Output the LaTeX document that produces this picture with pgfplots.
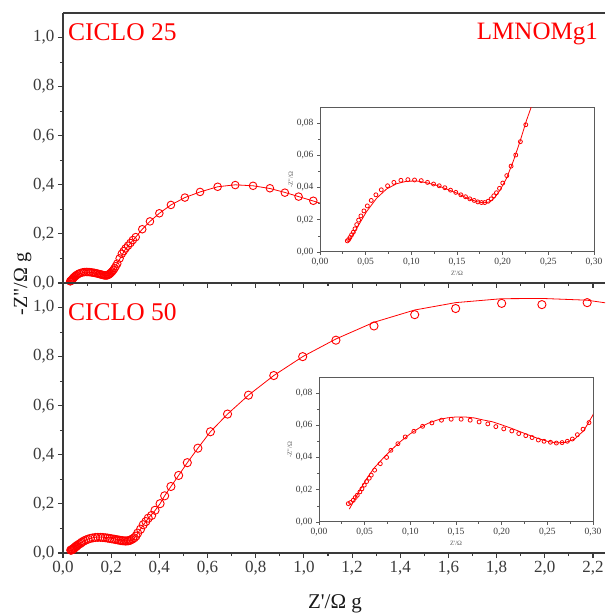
\documentclass[border=0pt]{standalone}
\usepackage{pgfplots}
\pgfplotsset{compat=1.18}
\usepackage{pgfplotstable}
\usepackage{fontspec}
\setmainfont{Liberation Serif}[Ligatures=TeXOff]
\definecolor{axgray}{HTML}{3A3A3A}
\definecolor{insgray}{HTML}{5A5A5A}
\definecolor{myred}{HTML}{FF0000}

\pgfplotstableread{
x y
0.0299 0.0069
0.0313 0.0077
0.0328 0.0090
0.0346 0.0107
0.0365 0.0123
0.0383 0.0144
0.0402 0.0170
0.0423 0.0198
0.0448 0.0224
0.0481 0.0255
0.0518 0.0286
0.0561 0.0320
0.0612 0.0355
0.0671 0.0386
0.0740 0.0411
0.0809 0.0432
0.0886 0.0445
0.0962 0.0449
0.1035 0.0447
0.1108 0.0443
0.1177 0.0432
0.1243 0.0422
0.1305 0.0411
0.1367 0.0399
0.1429 0.0384
0.1487 0.0370
0.1542 0.0355
0.1593 0.0343
0.1640 0.0330
0.1688 0.0320
0.1728 0.0311
0.1768 0.0307
0.1804 0.0307
0.1841 0.0315
0.1874 0.0330
0.1903 0.0349
0.1932 0.0368
0.1965 0.0395
0.2001 0.0428
0.2045 0.0474
0.2092 0.0533
0.2143 0.0602
0.2194 0.0685
0.2253 0.0790
0.235 0.100
0.244 0.119
0.252 0.130
0.260 0.141
0.270 0.152
0.280 0.163
0.290 0.175
0.302 0.187
0.329 0.219
0.361 0.251
0.400 0.284
0.448 0.318
0.506 0.348
0.569 0.371
0.642 0.392
0.715 0.399
0.789 0.396
0.859 0.386
0.921 0.368
0.978 0.352
1.039 0.335
}\datA

\pgfplotstableread{
x y
0.0310 0.0063
0.0401 0.0146
0.0510 0.0251
0.0620 0.0334
0.0729 0.0391
0.0839 0.0424
0.0948 0.0439
0.1057 0.0441
0.1167 0.0430
0.1276 0.0414
0.1386 0.0391
0.1495 0.0366
0.1604 0.0336
0.1714 0.0313
0.1786 0.0305
0.1859 0.0311
0.1914 0.0338
0.1969 0.0382
0.2042 0.0457
0.2115 0.0562
0.2188 0.0683
0.2261 0.0817
0.2344 0.0950
0.244 0.113
0.260 0.139
0.280 0.162
0.302 0.187
0.329 0.219
0.361 0.251
0.400 0.284
0.448 0.318
0.506 0.348
0.569 0.371
0.642 0.392
0.715 0.400
0.789 0.396
0.859 0.385
0.921 0.369
0.978 0.352
1.039 0.334
1.100 0.315
}\fitA

\pgfplotstableread{
x y
0.0321 0.0114
0.0346 0.0121
0.0375 0.0135
0.0397 0.0152
0.0419 0.0166
0.0448 0.0187
0.0470 0.0206
0.0496 0.0229
0.0521 0.0251
0.0550 0.0272
0.0572 0.0291
0.0609 0.0322
0.0671 0.0362
0.0740 0.0401
0.0787 0.0445
0.0864 0.0486
0.0944 0.0528
0.1039 0.0563
0.1134 0.0594
0.1236 0.0615
0.1341 0.0632
0.1447 0.0638
0.1556 0.0638
0.1655 0.0632
0.1753 0.0621
0.1848 0.0609
0.1936 0.0592
0.2023 0.0578
0.2111 0.0565
0.2187 0.0549
0.2264 0.0536
0.2333 0.0524
0.2402 0.0509
0.2464 0.0501
0.2534 0.0495
0.2599 0.0490
0.2661 0.0493
0.2719 0.0501
0.2774 0.0515
0.2829 0.0542
0.2891 0.0576
0.2956 0.0617
0.303 0.069
0.310 0.081
0.322 0.097
0.333 0.115
0.344 0.128
0.354 0.142
0.368 0.153
0.382 0.174
0.403 0.201
0.422 0.233
0.448 0.271
0.480 0.316
0.516 0.368
0.560 0.427
0.612 0.494
0.683 0.566
0.770 0.643
0.875 0.723
0.995 0.800
1.133 0.867
1.291 0.925
1.460 0.971
1.630 0.996
1.821 1.017
1.988 1.012
2.176 1.020
}\datB

\pgfplotstableread{
x y
0.0332 0.0080
0.0400 0.0150
0.0450 0.0200
0.0521 0.0268
0.0600 0.0333
0.0700 0.0395
0.0800 0.0452
0.0900 0.0503
0.1000 0.0548
0.1100 0.0585
0.1200 0.0614
0.1300 0.0634
0.1400 0.0646
0.1500 0.0652
0.1600 0.0652
0.1700 0.0646
0.1800 0.0633
0.1900 0.0622
0.2000 0.0603
0.2100 0.0583
0.2200 0.0561
0.2300 0.0539
0.2400 0.0518
0.2500 0.0501
0.2600 0.0491
0.2700 0.0494
0.2800 0.0515
0.2900 0.0568
0.3000 0.0665
0.310 0.080
0.333 0.114
0.354 0.141
0.382 0.173
0.403 0.201
0.422 0.233
0.448 0.271
0.480 0.316
0.516 0.368
0.560 0.427
0.612 0.494
0.683 0.566
0.770 0.643
0.875 0.723
0.995 0.800
1.133 0.872
1.291 0.940
1.460 0.990
1.630 1.020
1.821 1.036
1.990 1.037
2.175 1.030
2.260 1.018
}\fitB

\pgfplotsset{
  mainax/.style={
    scale only axis, width=542pt, height=270pt, anchor=south west,
    xmin=0, xmax=2.25, ymin=0, ymax=1.1,
    axis x line*=box, axis y line*=left,
    xtick pos=lower, ytick pos=left,
    xtick={0,0.2,0.4,0.6,0.8,1.0,1.2,1.4,1.6,1.8,2.0,2.2},
    ytick={0,0.2,0.4,0.6,0.8,1.0},
    minor x tick num=1, minor y tick num=1,
    scaled x ticks=false, scaled y ticks=false,
    tick align=outside,
    major tick length=5pt, minor tick length=3pt,
    axis line style={line width=1.6pt, color=axgray},
    every tick/.style={line width=1.1pt, color=axgray},
    tick label style={font=\fontsize{17}{17}\selectfont, text=axgray},
    /pgf/number format/.cd, use comma, fixed, fixed zerofill, precision=1, assume math mode=true,
  },
  inset/.style={
    scale only axis, width=274pt, height=145pt, anchor=south west,
    xmin=0, xmax=0.30, ymin=0, ymax=0.09,
    xtick={0,0.05,0.10,0.15,0.20,0.25,0.30},
    ytick={0,0.02,0.04,0.06,0.08},
    minor x tick num=1, minor y tick num=1,
    scaled x ticks=false, scaled y ticks=false,
    xtick pos=lower, ytick pos=left,
    tick align=outside,
    major tick length=3pt, minor tick length=2pt,
    axis line style={line width=1.0pt, color=insgray},
    every tick/.style={line width=0.7pt, color=insgray},
    tick label style={font=\fontsize{9.5}{9.5}\selectfont, text=axgray},
    axis background/.style={fill=white},
    xlabel={Z'/Ω}, ylabel={-Z"/Ω},
    label style={font=\fontsize{6.5}{7}\selectfont, text=insgray},
    xlabel style={yshift=2pt},
    ylabel style={yshift=-3pt},
    /pgf/number format/.cd, use comma, fixed, fixed zerofill, precision=2, assume math mode=true,
  },
  redline/.style={myred, line width=0.8pt, no marks},
  redmark/.style={myred, only marks, mark=o, mark options={line width=0.9pt}},
}

\begin{document}
\begin{tikzpicture}
\path[use as bounding box] (0pt,0pt) rectangle (605pt,613pt);

% top panel (CICLO 25)
\begin{axis}[mainax, at={(63pt,330pt)}, xticklabels={}]
\addplot[redline] table {\fitA};
\addplot[redmark, mark size=3.8pt] table {\datA};
\end{axis}

\begin{axis}[inset, at={(320pt,361pt)}]
\addplot[redline] table {\fitA};
\addplot[redmark, mark size=2pt, mark options={line width=0.8pt}] table {\datA};
\end{axis}

% bottom panel (CICLO 50)
\begin{axis}[mainax, at={(63pt,60pt)}]
\addplot[redline] table {\fitB};
\addplot[redmark, mark size=4.1pt] table {\datB};
\end{axis}

\begin{axis}[inset, at={(319pt,91pt)}]
\addplot[redline] table {\fitB};
\addplot[redmark, mark size=2pt, mark options={line width=0.8pt}] table {\datB};
\end{axis}

\node[anchor=base west, inner sep=0pt, text=myred, font=\fontsize{25.5}{26}\selectfont] at (68pt,572pt) {CICLO 25};
\node[anchor=base east, inner sep=0pt, text=myred, font=\fontsize{25}{26}\selectfont] at (598pt,573.5pt) {LMNOMg1};
\node[anchor=base west, inner sep=0pt, text=myred, font=\fontsize{25.5}{26}\selectfont] at (68pt,292pt) {CICLO 50};
\node[anchor=base, inner sep=0pt, text=black!90, font=\fontsize{21}{21}\selectfont] at (335pt,5pt) {Z'/Ω g};
\node[anchor=base, rotate=90, inner sep=0pt, text=black!90, font=\fontsize{20}{20}\selectfont] at (27pt,329pt) {-Z"/Ω g};
\end{tikzpicture}
\end{document}
